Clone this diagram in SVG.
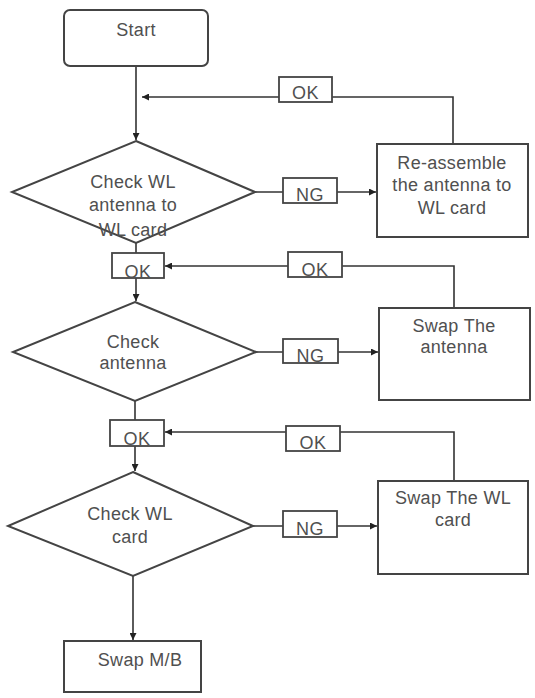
<svg xmlns="http://www.w3.org/2000/svg" width="535" height="698" viewBox="0 0 535 698">
<defs>
<marker id="ah" viewBox="0 0 10 10" refX="10" refY="5" markerWidth="7" markerHeight="7" markerUnits="userSpaceOnUse" orient="auto">
<path d="M0,0 L10,5 L0,10 z" fill="#222"/>
</marker>
<style>
.shape{fill:#fff;stroke:#444;stroke-width:2}
.lbl{fill:#fff;stroke:#444;stroke-width:1.8}
.line{fill:none;stroke:#333;stroke-width:1.6}
text{font-family:"Liberation Sans",Arial,sans-serif;font-size:18px;letter-spacing:0.3px;fill:#505050;text-anchor:middle}
.t18{font-size:18px;letter-spacing:0.5px}
</style>
</defs>
<rect width="535" height="698" fill="#fff"/>
<g id="connectors">
<path class="line" d="M136,66 V140" marker-end="url(#ah)"/>
<path class="line" d="M453,144 V97 H142" marker-end="url(#ah)"/>
<path class="line" d="M255,192 H376" marker-end="url(#ah)"/>
<path class="line" d="M136,243 V301" marker-end="url(#ah)"/>
<path class="line" d="M454,308 V266 H165" marker-end="url(#ah)"/>
<path class="line" d="M256,352 H378" marker-end="url(#ah)"/>
<path class="line" d="M135,401 V471" marker-end="url(#ah)"/>
<path class="line" d="M454,481 V432 H165" marker-end="url(#ah)"/>
<path class="line" d="M253,526 H377" marker-end="url(#ah)"/>
<path class="line" d="M133,576 V640" marker-end="url(#ah)"/>
<g id="lbl-ok1"><rect class="lbl" x="279" y="77" width="53" height="25"/><text class="t18" x="305.5" y="99">OK</text></g>
<g id="lbl-ng1"><rect class="lbl" x="283" y="178" width="54" height="25"/><text class="t18" x="310" y="201">NG</text></g>
<g id="lbl-ok2"><rect class="lbl" x="288" y="252" width="54" height="25"/><text class="t18" x="315" y="276">OK</text></g>
<g id="lbl-ok2b"><rect class="lbl" x="112" y="253" width="52" height="25"/><text class="t18" x="138" y="278">OK</text></g>
<g id="lbl-ng2"><rect class="lbl" x="283" y="339" width="55" height="24"/><text class="t18" x="310.5" y="362">NG</text></g>
<g id="lbl-ok3"><rect class="lbl" x="286" y="426" width="54" height="25"/><text class="t18" x="313" y="449">OK</text></g>
<g id="lbl-ok3b"><rect class="lbl" x="110" y="420" width="54" height="26"/><text class="t18" x="137" y="445">OK</text></g>
<g id="lbl-ng3"><rect class="lbl" x="283" y="511" width="54" height="26"/><text class="t18" x="310" y="535">NG</text></g>
</g>
<g id="start">
<rect class="shape" x="64" y="10" width="144" height="56" rx="6"/>
<text x="136" y="36">Start</text>
</g>
<g id="check-wl-antenna">
<polygon class="shape" points="136,141 255,192 136,243 12,192"/>
<text x="133" y="188">Check WL</text>
<text x="133" y="211">antenna to</text>
<text x="133" y="236">WL card</text>
</g>
<g id="reassemble">
<rect class="shape" x="377" y="144" width="151" height="93"/>
<text x="452" y="169">Re-assemble</text>
<text x="452" y="191">the antenna to</text>
<text x="452" y="214">WL card</text>
</g>
<g id="check-antenna">
<polygon class="shape" points="135,302 256,352 135,401 13,352"/>
<text x="133" y="348">Check</text>
<text x="133" y="369">antenna</text>
</g>
<g id="swap-antenna">
<rect class="shape" x="379" y="308" width="151" height="92"/>
<text x="454" y="332">Swap The</text>
<text x="454" y="353">antenna</text>
</g>
<g id="check-wl-card">
<polygon class="shape" points="133,472 253,526 133,576 8,526"/>
<text x="130" y="520">Check WL</text>
<text x="130" y="543">card</text>
</g>
<g id="swap-wl-card">
<rect class="shape" x="378" y="481" width="150" height="93"/>
<text x="453" y="504">Swap The WL</text>
<text x="453" y="526">card</text>
</g>
<g id="swap-mb">
<rect class="shape" x="64" y="641" width="137" height="51"/>
<text x="140" y="666">Swap M/B</text>
</g>
</svg>
